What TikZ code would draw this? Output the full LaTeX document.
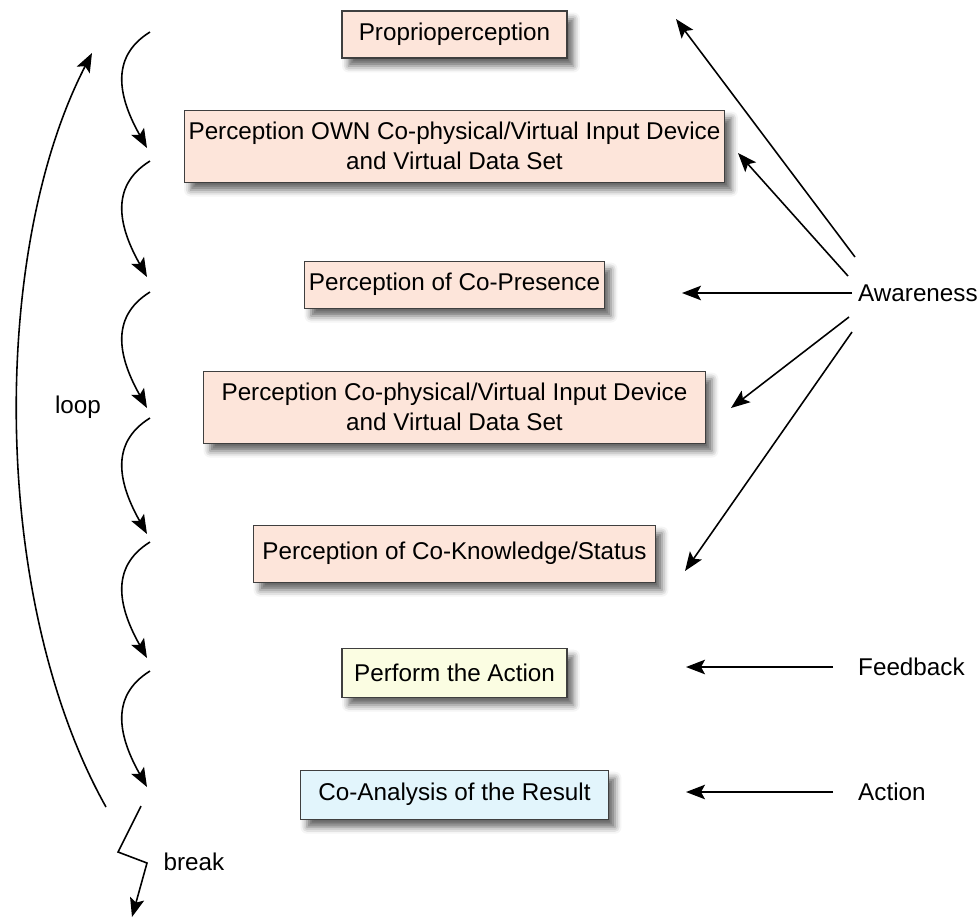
\documentclass[tikz,border=0pt]{standalone}
\usepackage{fontspec}
\setmainfont{Liberation Sans}
\usetikzlibrary{arrows.meta,positioning,shadows.blur}
\definecolor{peach}{HTML}{FDE5DA}
\definecolor{paleyellow}{HTML}{FBFDE2}
\definecolor{paleblue}{HTML}{E2F5FC}
\definecolor{edgegray}{HTML}{3F3F3F}

\begin{document}
\begin{tikzpicture}[x=0.02cm,y=-0.02cm,font=\fontsize{13.8}{17}\selectfont,
  >={Stealth[length=3.8mm,width=2.9mm,inset=0.8mm]},
  stage/.style={draw=edgegray,line width=0.6pt,fill=peach,inner sep=0pt,align=center,
    blur shadow={shadow xshift=1.3mm,shadow yshift=-1.6mm,shadow blur radius=1.3mm,shadow opacity=60}},
  flow/.style={->,line width=0.9pt}]
  \useasboundingbox (0,0) rectangle (977,917);
  % the stages
  \node[stage,minimum width=4.5cm,minimum height=0.94cm] (proprio) at (454.5,34.5) {Proprioperception};
  \node[stage,minimum width=10.82cm,minimum height=1.44cm,below=1.02cm of proprio] (owndev) {Perception OWN Co-physical/Virtual Input Device\\and Virtual Data Set};
  \node[stage,minimum width=6cm,minimum height=0.94cm,below=1.56cm of owndev] (copres) {Perception of Co-Presence};
  \node[stage,minimum width=10.04cm,minimum height=1.44cm,below=1.24cm of copres] (codev) {Perception Co-physical/Virtual Input Device\\and Virtual Data Set};
  \node[stage,minimum width=8.04cm,minimum height=1.14cm,below=1.62cm of codev] (coknow) {Perception of Co-Knowledge/Status};
  \node[stage,fill=paleyellow,minimum width=4.5cm,minimum height=0.98cm,below=1.3cm of coknow] (perform) {Perform the Action};
  \node[stage,fill=paleblue,minimum width=6.16cm,minimum height=0.98cm,below=1.44cm of perform] (coanalysis) {Co-Analysis of the Result};
  % the steps on the left
  \foreach \y [count=\i] in {32,161,292,418,542,671}{
    \coordinate (top\i) at (150,\y);
    \coordinate (tip\i) at (147,\y+116);
    \draw[flow] (top\i) .. controls +(-42,26) and +(-27,-48) .. (tip\i);
  }
  \coordinate (loopstart) at (106,807);
  \coordinate (loopend) at (92,53);
  \draw[flow] (loopstart) .. controls (-10,600) and (-10,250) .. (loopend);
  \node (looplbl) at (78,407) {loop};
  \coordinate (b0) at (141,806);
  \coordinate (b1) at (118,852);
  \coordinate (b2) at (147,863);
  \coordinate (b3) at (132,917);
  \draw[flow] (b0) -- (b1) -- (b2) -- (b3);
  \node (breaklbl) at (194,862) {break};
  % right hand side
  \node[anchor=west] (aware) at (852,293) {Awareness};
  \node[anchor=west] (feedback) at (852,667) {Feedback};
  \node[anchor=west] (action) at (852,792) {Action};
  \coordinate (aw1) at (855,257);
  \coordinate (aw2) at (848,276);
  \coordinate (aw4) at (849,317);
  \coordinate (aw5) at (852,332);
  \coordinate (to1) at (676,19);
  \coordinate (to2) at (738,153);
  \coordinate (to3) at (682,293);
  \coordinate (to4) at (731,408);
  \coordinate (to5) at (685,571);
  \coordinate (fbend) at (686,667);
  \coordinate (acend) at (686,792);
  \draw[flow] (aw1) -- (to1);
  \draw[flow] (aw2) -- (to2);
  \draw[flow] (aware.west) -- (to3);
  \draw[flow] (aw4) -- (to4);
  \draw[flow] (aw5) -- (to5);
  \draw[flow,shorten <=3.8mm] (feedback.west) -- (fbend);
  \draw[flow,shorten <=3.8mm] (action.west) -- (acend);
\end{tikzpicture}
\end{document}
